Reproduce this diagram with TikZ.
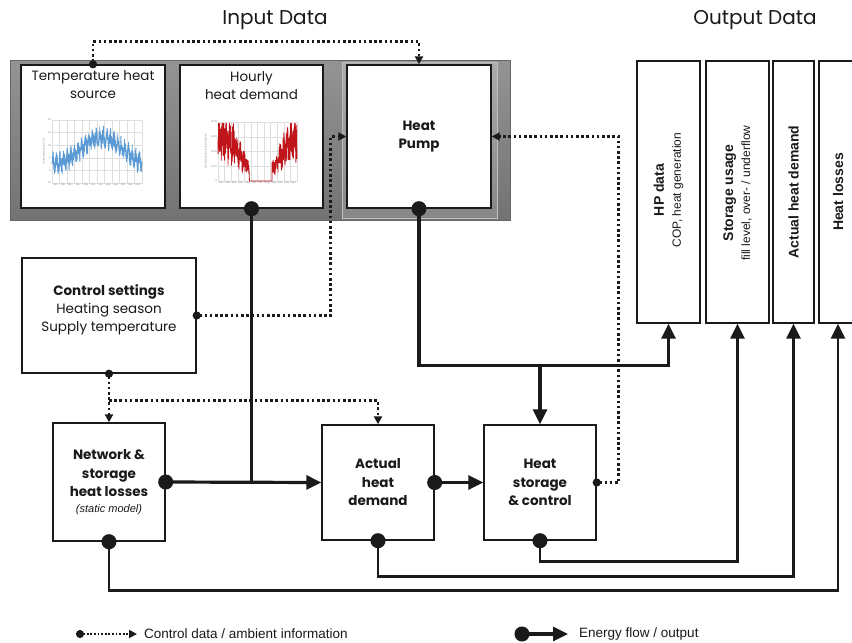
\documentclass[tikz,border=0pt]{standalone}
\usepackage{fontspec}
\setmainfont{Poppins}
\newfontfamily\helv{Liberation Sans}
\usetikzlibrary{positioning, calc, arrows.meta, shadows}

\definecolor{inkgray}{HTML}{1A1A1A}
\definecolor{tempblue}{HTML}{5B9BD5}
\definecolor{demandred}{HTML}{C0161B}
\definecolor{gridgray}{HTML}{DEDEDE}

\tikzset{block/.style={rectangle, draw=inkgray, line width=1.4pt, fill=white, inner sep=0pt, align=center,
                       text=inkgray, font=\fontsize{13.5}{18.5}\selectfont,
                       drop shadow={shadow xshift=1.3pt, shadow yshift=-1.3pt, opacity=0.3, fill=black}},
         outbox/.style={block, minimum height=262pt},
         boxtext/.style={align=center, text=inkgray, inner sep=0pt, font=\fontsize{13.5}{18}\selectfont},
         outtext/.style={align=center, text=inkgray, inner sep=0pt, rotate=90, font=\helv\fontsize{12}{17}\selectfont},
         title/.style={text=inkgray, font=\fontsize{20}{24}\selectfont},
         keytext/.style={text=inkgray, inner sep=0pt, font=\helv\fontsize{13.5}{16}\selectfont},
         gridline/.style={draw=gridgray, line width=0.5pt},
         ticklbl/.style={text=black!45, inner sep=0.8pt, font=\helv\fontsize{2.6}{3}\selectfont},
         energy/.style={draw=inkgray, line width=3.2pt, {Circle[length=15pt]}-{Triangle[length=15pt, width=14pt]}, shorten <=-7.5pt},
         energysrc/.style={draw=inkgray, line width=3.2pt, {Circle[length=15pt]}-, shorten <=-7.5pt},
         energybranch/.style={draw=inkgray, line width=3.2pt, -{Triangle[length=15pt, width=14pt]}},
         ctrl/.style={draw=inkgray, line width=2.8pt, dash pattern=on 2.6pt off 2.6pt, {Circle[length=8pt]}-{Triangle[length=8pt, width=8pt]}, shorten <=-4pt},
         ctrlbranch/.style={draw=inkgray, line width=2.8pt, dash pattern=on 2.6pt off 2.6pt, -{Triangle[length=8pt, width=8pt]}}}

\begin{document}
\begin{tikzpicture}[x=1pt, y=-1pt]
    \clip (0,0) rectangle (852,643);
    \fill[white] (0,0) rectangle (852,643);

    \node (intitle) [title] at (275,20) {Input Data};
    \node (outtitle) [title] at (755,20) {Output Data};

    % grey panel holding the input data
    \node (inpanel) [rectangle, draw=black!60, line width=0.8pt, top color=black!42, bottom color=black!55,
                     minimum width=500pt, minimum height=160pt] at (260,140) {};
    \node (hppanel) [rectangle, draw=black!25, line width=0.8pt, top color=black!33, bottom color=black!47,
                     minimum width=155pt, minimum height=156pt] at (419.5,140) {};

    \node (temp) [block, minimum width=144pt, minimum height=143pt] at (93,136.5) {};
    \node (templbl) [boxtext, below=6pt of temp.north] {Temperature heat\\source};
    \node (hourly) [block, minimum width=143pt, minimum height=143pt] at (251.5,136.5) {};
    \node (hourlylbl) [boxtext, below=7pt of hourly.north] {Hourly\\heat demand};
    \node (hp) [block, minimum width=144pt, minimum height=143pt] at (419,136.5) {\bfseries Heat\\\bfseries Pump};

    % temperature chart
    \draw[gridline] (52,120) rectangle (142,183);
    \foreach \gx in {1,...,11}
        \draw[gridline] ({52+\gx*7.5},120) -- ({52+\gx*7.5},183);
    \foreach \gy in {1,...,4}
        \draw[gridline] (52,{120+\gy*12.6}) -- (142,{120+\gy*12.6});
    \foreach \lbl [count=\i from 0] in {35,25,15,5,-5,-15}
        \node[ticklbl, left] at (52,{120+\i*12.6}) {\lbl};
    \foreach \mon [count=\i from 0] in {Jan.,Feb.,Mrz.,Apr.,Mai,Jun.,Jul.,Aug.,Sep.,Okt.,Nov.,Dez.}
        \node[ticklbl, below] at ({52+(\i+0.5)*7.5},183) {\mon};
    \node[ticklbl, rotate=90] at (44,151.5) {Außentemperatur [°C]};
    \pgfmathsetseed{11}
    \draw[tempblue, line width=0.8pt, line join=round]
        plot[domain=52:142, samples=700]
        (\x, {120+(35-(11-10*cos(4*(\x-52)-18)+4*sin(100*(\x-52))+6*rand))*1.26});

    % hourly demand chart (values in MWh), no heating from June to mid September
    \draw[gridline] (218,122) rectangle (297,181);
    \foreach \gx in {1,...,11}
        \draw[gridline] ({218+\gx*79/12},122) -- ({218+\gx*79/12},181);
    \foreach \gy in {1,...,3}
        \draw[gridline] (218,{122+\gy*14.75}) -- (297,{122+\gy*14.75});
    \foreach \lbl [count=\i from 0] in {8000,6000,4000,2000,0}
        \node[ticklbl, left] at (218,{122+\i*14.75}) {\lbl};
    \foreach \mon [count=\i from 0] in {Jan.,Feb.,Mrz.,Apr.,Mai,Jun.,Jul.,Aug.,Sep.,Okt.,Nov.,Dez.}
        \node[ticklbl, below] at ({218+(\i+0.5)*79/12},181) {\mon};
    \node[ticklbl, rotate=90] at (206,151.5) {Wärmebedarf stündlich [kWh]};
    \pgfmathsetseed{5}
    \draw[demandred, line width=0.8pt, line join=round,
          declare function={hseason(\t)=cos(360*(\t-0.04))>-0.62;
                            hdem(\t)=hseason(\t)*(3.3+2.6*cos(360*(\t-0.04)));}]
        plot[domain=218:297, samples=700]
        (\x, {181-min(7.8,hdem((\x-218)/79)*(1+0.45*rand+0.2*sin(100*(\x-218))))*7.375});

    % output data columns
    \node (hpdata) [outbox, minimum width=63pt] at (668.5,192) {};
    \node (hpdatalbl) [outtext] at (668.5,190) {{\bfseries\fontsize{14}{17}\selectfont HP data}\\COP, heat generation};
    \node (storeout) [outbox, minimum width=63pt] at (737.5,192) {};
    \node (storeoutlbl) [outtext] at (737.5,193) {{\bfseries\fontsize{14}{17}\selectfont Storage usage}\\fill level, over- / underflow};
    \node (demout) [outbox, minimum width=41pt] at (793.5,192) {};
    \node (demoutlbl) [outtext, font=\helv\bfseries\fontsize{14}{17}\selectfont] at (793.5,192) {Actual heat demand};
    \node (lossout) [outbox, minimum width=63pt] at (850.5,192) {};
    \node (lossoutlbl) [outtext, font=\helv\bfseries\fontsize{14}{17}\selectfont] at (838,192) {Heat losses};

    % model blocks
    \node (ctrl) [block, minimum width=174pt, minimum height=115pt] at (109,315.5) {};
    \node (ctrllbl) [boxtext] at (109,310) {\bfseries Control settings\\Heating season\\Supply temperature};
    \node (netloss) [block, minimum width=112pt, minimum height=118pt] at (109,482)
        {\bfseries Network \&\\\bfseries storage\\\bfseries heat losses\\[-3pt]{\helv\itshape\fontsize{11}{13}\selectfont (static model)}};
    \node (actual) [block, minimum width=112pt, minimum height=115pt] at (378,482.5) {\bfseries Actual\\\bfseries heat\\\bfseries demand};
    \node (storage) [block, minimum width=112pt, minimum height=115pt] at (540,482.5) {\bfseries Heat\\\bfseries storage\\\bfseries \& control};

    % control data and ambient information
    \draw[ctrl] (temp.north) -- ++(0,-23) -| (hp.north);
    \draw[ctrl] (ctrl.east) -- ++(134,0) |- (hp.west);
    \draw[ctrl] (storage.east) -- ++(22,0) |- (hp.east);
    \draw[ctrl] (ctrl.south) -- ++(0,27) coordinate (ctrlsplit) -- (netloss.north);
    \draw[ctrlbranch] (ctrlsplit) -| (actual.north);

    % energy flows
    \draw[energysrc] (hourly.south) -- (hourly.south |- netloss.east);
    \draw[energy] (netloss.east) -- (actual.west);
    \draw[energy] (actual.east) -- (storage.west);
    \draw[energy] (hp.south) -- ++(0,157) coordinate (hpsplit) -| (hpdata.south);
    \draw[energybranch] (hpsplit -| storage.north) -- (storage.north);
    \draw[energy, line width=2.6pt] (storage.south) -- ++(0,21) -| (storeout.south);
    \draw[energy, line width=2.6pt] (actual.south) -- ++(0,35.5) -| (demout.south);
    \draw[energy, line width=2.6pt] (netloss.south) -- ++(0,49) -| (lossoutlbl.center |- lossout.south);

    % key
    \coordinate (ctrlkeyA) at (80,634);
    \coordinate (ctrlkeyB) at (137,634);
    \draw[ctrl, line width=1.8pt, dash pattern=on 1.8pt off 1.8pt] (ctrlkeyA) -- (ctrlkeyB);
    \node (ctrlkey) [keytext, right=7pt of ctrlkeyB] {Control data / ambient information};
    \coordinate (energykeyA) at (522,634);
    \coordinate (energykeyB) at (568,634);
    \draw[energy] (energykeyA) -- (energykeyB);
    \node (energykey) [keytext, right=11pt of energykeyB] {Energy flow / output};
\end{tikzpicture}
\end{document}
